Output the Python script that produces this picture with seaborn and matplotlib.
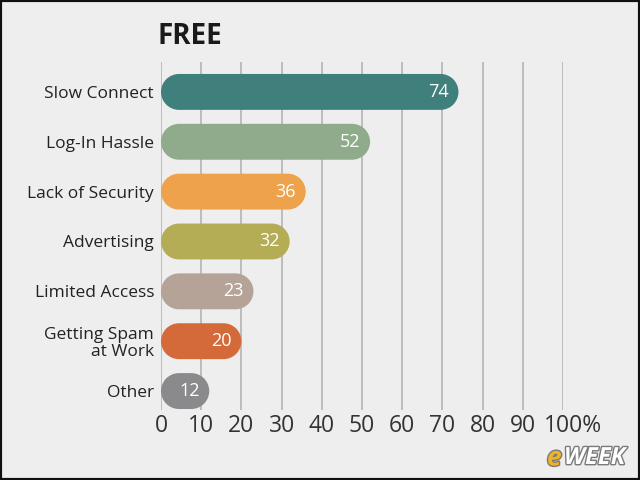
import matplotlib
matplotlib.use("Agg")
import matplotlib.pyplot as plt
import matplotlib.patheffects as pe
import numpy as np
from matplotlib.patches import PathPatch
from matplotlib.path import Path
from matplotlib.transforms import ScaledTranslation
import pandas as pd
import seaborn as sns

# data
categories = ["Slow Connect", "Log-In Hassle", "Lack of Security", "Advertising",
              "Limited Access", "Getting Spam\nat Work", "Other"]
values = [74, 52, 36, 32, 23, 20, 12]
bar_colors = ["#3f7f7c", "#90ab8b", "#eea24b", "#b5ad55", "#b5a397", "#d4693a", "#8a8a8c"]
x_ticks = list(range(0, 101, 10))
x_tick_labels = [str(t) for t in x_ticks[:-1]] + ["100%"]

BG = "#eeeeee"

sns.set_theme(style="white")
plt.rcParams["font.family"] = ["Open Sans", "DejaVu Sans"]

df = pd.DataFrame({"category": categories, "value": values})

fig = plt.figure(figsize=(6.4, 4.8), dpi=100, facecolor=BG)
ax = fig.add_axes([161 / 640, 70 / 480, 402 / 640, 348 / 480])
ax.set_facecolor(BG)

sns.barplot(data=df, x="value", y="category", hue="category",
            palette=bar_colors, saturation=1, legend=False, width=0.72,
            linewidth=0, edgecolor="none", ax=ax)

ax.set_xlim(0, 100)
ax.set_ylim(6.38, -0.6)


def pill_path(x0, w, yc, rx, ry):
    """Closed path of a bar with half-ellipse caps (round on screen)."""
    left = Path.arc(90, 270)
    right = Path.arc(-90, 90)
    lv = left.vertices * [rx, ry] + [x0 + rx, yc]
    rv = right.vertices * [rx, ry] + [x0 + w - rx, yc]
    lc = left.codes.copy()
    rc = right.codes.copy()
    rc[0] = Path.LINETO
    verts = np.vstack([lv, rv, lv[:1]])
    codes = np.concatenate([lc, rc, [Path.CLOSEPOLY]])
    return Path(verts, codes)


# swap seaborn's square bars for pills of the same extent
px_x = 402 / 100
px_y = 348 / 6.98
for p in list(ax.patches):
    x0, y0 = p.get_x(), p.get_y()
    w, h = p.get_width(), p.get_height()
    r = h / 2 * px_y / px_x          # cap radius in x units
    fc = p.get_facecolor()
    p.remove()
    ax.add_patch(PathPatch(pill_path(x0, w, y0 + h / 2, r, h / 2),
                           fc=fc, ec="none", lw=0, zorder=3))

for i, v in enumerate(values):
    ax.text(v - 2.4, i, str(v), ha="right", va="center", color="white",
            fontsize=13, zorder=4)

ax.set_xticks(x_ticks)
ax.set_xticklabels(x_tick_labels, fontsize=16.5, color="#333333")
ax.tick_params(axis="x", length=0, pad=3)
# keep "100" over its gridline and let the % hang to the right
last = ax.get_xticklabels()[-1]
last.set_horizontalalignment("left")
last.set_transform(last.get_transform() + ScaledTranslation(-19 / 100, 0, fig.dpi_scale_trans))

ax.tick_params(axis="y", length=0, pad=5, labelsize=12.5, labelcolor="#222222")
for lab in ax.get_yticklabels():
    lab.set_linespacing(1.05)
ax.set_xlabel("")
ax.set_ylabel("")
ax.grid(axis="x", color="#b8b8b8", lw=1.3)
ax.grid(axis="y", visible=False)
ax.set_axisbelow(True)
for s in ax.spines.values():
    s.set_visible(False)

fig.text(158 / 640, 1 - 37 / 480, "FREE", fontsize=20, fontweight="bold",
         color="#1a1a1a", va="center", ha="left")

# eWEEK mark, bottom right
outline = [pe.withStroke(linewidth=2, foreground="#7a7a7a")]
fig.text(547 / 640, 1 - 458 / 480, "e", fontsize=19, fontweight="bold",
         style="italic", color="#f0b323", va="center", ha="left", path_effects=outline)
fig.text(564 / 640, 1 - 458 / 480, "WEEK", fontsize=17, fontweight="bold",
         style="italic", color="white", va="center", ha="left", path_effects=outline)

# dark frame around the image
fig.patches.append(plt.Rectangle((0, 0), 1, 1, transform=fig.transFigure,
                                 fill=False, ec="#111111", lw=3))

fig.savefig("out.png", dpi=100, facecolor=BG)
